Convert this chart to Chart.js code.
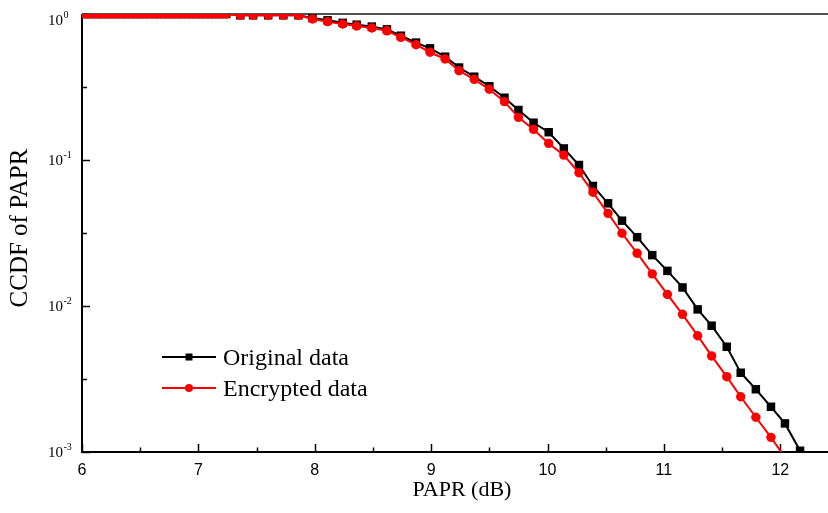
<!DOCTYPE html>
<html><head><meta charset="utf-8">
<script src="https://cdn.jsdelivr.net/npm/chart.js@4.4.1/dist/chart.umd.min.js"></script>
<style>html,body{margin:0;padding:0;background:#fff;overflow:hidden}#wrap{width:828px;height:513px}</style>
</head><body><div id="wrap"><canvas id="c" width="828" height="513"></canvas></div>
<script>
// PAPR values (dB)
const paprX = [6.00,6.04,6.08,6.12,6.16,6.20,6.24,6.28,6.32,6.36,6.40,6.44,6.48,6.52,6.56,6.60,
  6.64,6.68,6.72,6.76,6.80,6.84,6.88,6.92,6.96,7.00,7.04,7.08,7.12,7.16,7.20,7.24,
  7.36,7.47,7.60,7.73,7.86,7.98,8.11,8.24,8.36,8.49,8.62,8.74,8.87,8.99,9.12,9.24,9.37,9.50,
  9.63,9.75,9.88,10.01,10.14,10.27,10.39,10.52,10.64,10.77,10.90,11.03,11.16,11.29,11.41,
  11.54,11.66,11.79,11.92,12.04,12.17];
// CCDF of PAPR, original data
const originalCCDF = [1,1,1,1,1,1,1,1,1,1,1,1,1,1,1,1,
  1,1,1,1,1,1,1,1,1,1,1,1,1,1,1,1,
  0.98,0.98,0.98,0.98,0.98,0.94,0.905,0.87,0.845,0.82,0.785,0.71,0.637,0.582,0.51,0.43,0.372,0.32,
  0.267,0.220,0.180,0.155,0.120,0.0924,0.0664,0.0505,0.0384,0.0296,0.0223,0.0174,0.0134,0.00948,0.00733,
  0.00526,0.00349,0.00269,0.00204,0.00157,0.00102];
// CCDF of PAPR, encrypted data
const encryptedCCDF = [1,1,1,1,1,1,1,1,1,1,1,1,1,1,1,1,
  1,1,1,1,1,1,1,1,1,1,1,1,1,1,1,1,
  0.98,0.98,0.98,0.98,0.98,0.924,0.886,0.854,0.827,0.802,0.767,0.692,0.616,0.547,0.492,0.409,0.357,0.305,
  0.251,0.196,0.162,0.130,0.108,0.0818,0.0601,0.0431,0.0315,0.0230,0.0166,0.0120,0.00877,0.00626,0.00455,
  0.00328,0.00239,0.00173,0.00126,0.00092];
const seriesNames = ['Original data','Encrypted data'];
const xTickValues = [6,7,8,9,10,11,12];
const xMinorValues = [6.5,7.5,8.5,9.5,10.5,11.5];
const yTickValues = [1,0.1,0.01,0.001];
const yTickExponents = ['0','-1','-2','-3'];
const xTitle = 'PAPR (dB)';
const yTitle = 'CCDF of PAPR';

const toPts = (xs, ys) => ys.map((v, i) => ({x: xs[i], y: v}));

const axesPlugin = {
  id: 'axesPlugin',
  beforeDatasetsDraw(chart) {
    const {ctx, chartArea: a, scales: {x, y}} = chart;
    const W = chart.width;
    ctx.save();
    ctx.strokeStyle = '#000';
    ctx.lineWidth = 2;
    ctx.beginPath(); ctx.moveTo(a.left, a.top); ctx.lineTo(a.left, a.bottom + 1); ctx.stroke();
    ctx.beginPath(); ctx.moveTo(a.left - 1, a.bottom); ctx.lineTo(W, a.bottom); ctx.stroke();
    ctx.lineWidth = 1.5; ctx.strokeStyle = '#1a1a1a';
    ctx.beginPath(); ctx.moveTo(a.left, a.top); ctx.lineTo(W, a.top); ctx.stroke();
    ctx.strokeStyle = '#000'; ctx.lineWidth = 1.5;
    xTickValues.forEach(v => { const px = Math.round(x.getPixelForValue(v)) + 0.5;
      ctx.beginPath(); ctx.moveTo(px, a.bottom); ctx.lineTo(px, a.bottom - 8); ctx.stroke(); });
    xMinorValues.forEach(v => { const px = Math.round(x.getPixelForValue(v)) + 0.5;
      ctx.beginPath(); ctx.moveTo(px, a.bottom); ctx.lineTo(px, a.bottom - 4.5); ctx.stroke(); });
    yTickValues.forEach(v => { const py = Math.round(y.getPixelForValue(v)) + 0.5;
      ctx.beginPath(); ctx.moveTo(a.left, py); ctx.lineTo(a.left + 8, py); ctx.stroke(); });
    yTickValues.slice(0, -1).forEach(v => { const py = Math.round(y.getPixelForValue(v / Math.sqrt(10))) + 0.5;
      ctx.beginPath(); ctx.moveTo(a.left, py); ctx.lineTo(a.left + 5, py); ctx.stroke(); });
    ctx.restore();
  },
  afterDraw(chart) {
    const {ctx, chartArea: a, scales: {x, y}} = chart;
    ctx.save();
    ctx.fillStyle = '#000';
    ctx.font = '16px "Liberation Sans", Arial, sans-serif';
    ctx.textAlign = 'center'; ctx.textBaseline = 'alphabetic';
    xTickValues.forEach(v => ctx.fillText(String(v), x.getPixelForValue(v), a.bottom + 23));
    yTickValues.forEach((v, i) => {
      const py = y.getPixelForValue(v);
      const base = Math.max(py + 5, 25);
      ctx.font = '15px "Liberation Serif", "Times New Roman", serif';
      ctx.textAlign = 'right';
      ctx.fillText('10', 63, base);
      ctx.font = '10px "Liberation Serif", "Times New Roman", serif';
      ctx.textAlign = 'left';
      ctx.fillText(yTickExponents[i], 63.5, base - 7);
    });
    ctx.font = '22px "Liberation Serif", "Times New Roman", serif';
    ctx.textAlign = 'center';
    ctx.fillText(xTitle, 462, 496);
    ctx.save();
    ctx.translate(27, 228);
    ctx.rotate(-Math.PI / 2);
    ctx.font = '25px "Liberation Serif", "Times New Roman", serif';
    ctx.fillText(yTitle, 0, 0);
    ctx.restore();
    const items = [
      {name: seriesNames[0], color: '#000', style: 'rect', y: 357},
      {name: seriesNames[1], color: '#ff0000', style: 'circle', y: 388}
    ];
    items.forEach(it => {
      ctx.strokeStyle = it.color; ctx.fillStyle = it.color; ctx.lineWidth = 2;
      ctx.beginPath(); ctx.moveTo(162, it.y); ctx.lineTo(216, it.y); ctx.stroke();
      if (it.style === 'rect') { ctx.fillRect(185.5, it.y - 3.5, 7, 7); }
      else { ctx.beginPath(); ctx.arc(189, it.y, 4, 0, Math.PI * 2); ctx.fill(); }
      ctx.fillStyle = '#000';
      ctx.font = '24px "Liberation Serif", "Times New Roman", serif';
      ctx.textAlign = 'left';
      ctx.fillText(it.name, 223, it.y + 8);
    });
    ctx.restore();
  }
};

new Chart(document.getElementById('c'), {
  type: 'scatter',
  data: {
    datasets: [
      { label: seriesNames[0], data: toPts(paprX, originalCCDF), showLine: true,
        borderColor: '#000', backgroundColor: '#000', borderWidth: 2,
        pointStyle: 'rect', pointRadius: 6, pointBorderWidth: 0, tension: 0, order: 2,
        clip: {left: 0, top: 0, right: 0, bottom: 1} },
      { label: seriesNames[1], data: toPts(paprX, encryptedCCDF), showLine: true,
        borderColor: '#ff0000', backgroundColor: '#ff0000', borderWidth: 2,
        pointStyle: 'circle', pointRadius: 4.7, pointBorderWidth: 0, tension: 0, order: 1,
        clip: {left: 0, top: 0, right: 0, bottom: 0} }
    ]
  },
  options: {
    responsive: false, animation: false, devicePixelRatio: 1,
    layout: {autoPadding: false, padding: {left: 82, top: 14, right: 0, bottom: 61}},
    plugins: {legend: {display: false}, tooltip: {enabled: false}},
    scales: {
      x: {type: 'linear', display: false, min: 6, max: 12.41},
      y: {type: 'logarithmic', display: false, min: 0.001, max: 1}
    }
  },
  plugins: [axesPlugin]
});
</script></body></html>
